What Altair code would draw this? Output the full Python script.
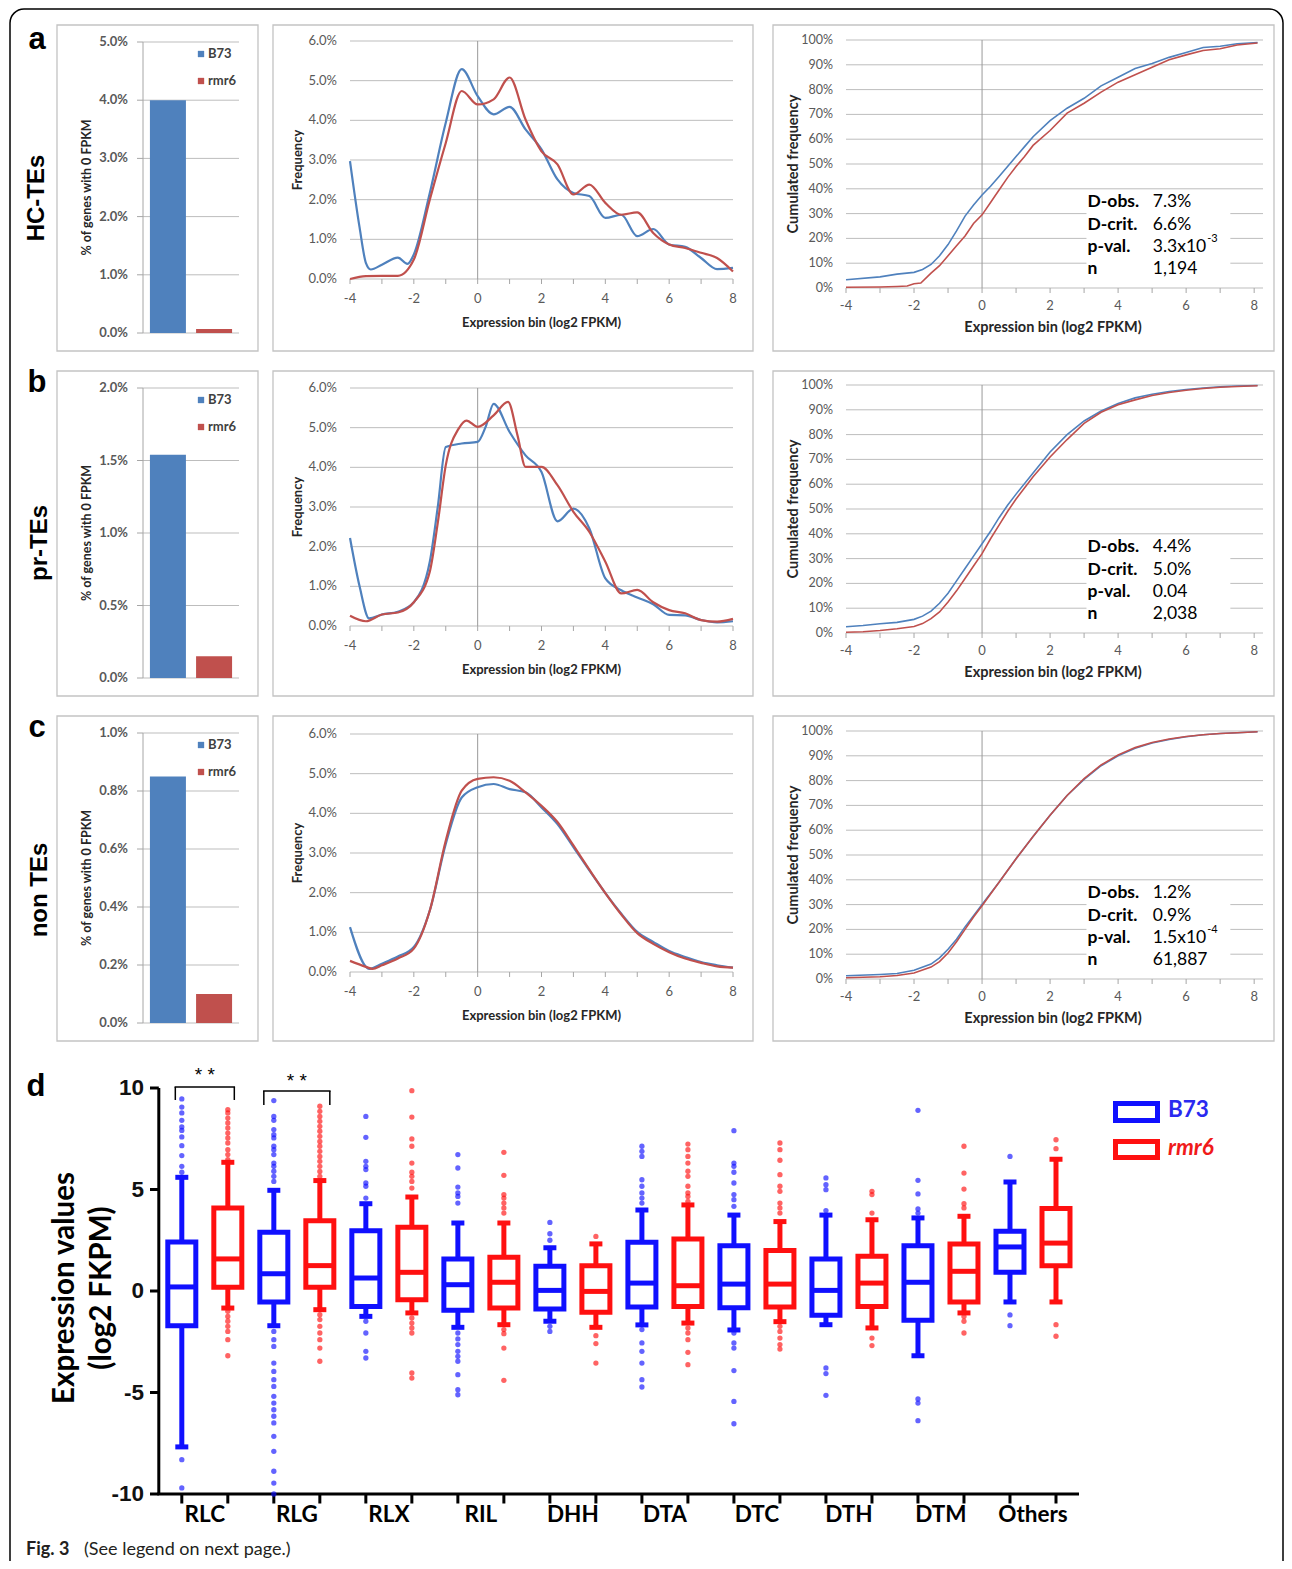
import altair as alt
import pandas as pd

W, H = 1276, 1553
XL = "Lato"
AR = "Liberation Sans"
ARN = "Liberation Sans Narrow, Liberation Sans"
GRID = "#bdbdbd"
AXC = "#a6a6a6"
ZERO = "#9a9a9a"
LAB = "#595959"
TIT = "#262626"
FRAME = "#c3c3c3"
BLUE_XL, RED_XL = "#4F81BD", "#C0504D"
BLUE, RED = "#1010FF", "#FF1010"

# ---------------- data ----------------
SERIES = ["B73", "rmr6"]
ROW_LABELS = ["HC-TEs", "pr-TEs", "non TEs"]

zero_fpkm_b73 = [4.0, 1.54, 0.85]
zero_fpkm_rmr6 = [0.07, 0.15, 0.10]
bar_max = [5.0, 2.0, 1.0]
bar_ticks_a = [0, 1, 2, 3, 4, 5]
bar_ticks_b = [0, 0.5, 1.0, 1.5, 2.0]
bar_ticks_c = [0, 0.2, 0.4, 0.6, 0.8, 1.0]

freq_ticks = [0, 1, 2, 3, 4, 5, 6]
expr_ticks = [-4, -3, -2, -1, 0, 1, 2, 3, 4, 5, 6, 7, 8]
expr_labels = [-4, -2, 0, 2, 4, 6, 8]
cum_ticks = [0, 10, 20, 30, 40, 50, 60, 70, 80, 90, 100]

# frequency curves (% of genes per expression bin)
fa_b73_x = [-4, -3.7, -3.5, -3.35, -3, -2.5, -2.2, -2, -1.5, -1, -0.5, 0, 0.5, 1, 1.5, 2, 2.5, 3, 3.5, 4, 4.5, 5, 5.5, 6, 6.5, 7, 7.5, 8]
fa_b73_y = [2.97, 1.3, 0.4, 0.24, 0.36, 0.54, 0.38, 0.62, 2.17, 3.94, 5.29, 4.61, 4.15, 4.34, 3.77, 3.27, 2.51, 2.17, 2.09, 1.54, 1.62, 1.08, 1.26, 0.87, 0.81, 0.53, 0.25, 0.28]
fa_rmr6_x = [-4, -3.5, -3, -2.5, -2, -1.5, -1, -0.5, 0, 0.5, 1, 1.5, 2, 2.5, 3, 3.5, 4, 4.5, 5, 5.5, 6, 6.5, 7, 7.5, 8]
fa_rmr6_y = [0, 0.07, 0.08, 0.08, 0.49, 2.0, 3.43, 4.74, 4.4, 4.53, 5.08, 4.02, 3.22, 2.89, 2.13, 2.38, 1.92, 1.62, 1.68, 1.16, 0.87, 0.78, 0.66, 0.53, 0.19]

fb_b73_x = [-4, -3.7, -3.4, -3, -2.5, -2, -1.5, -1.25, -1, -0.5, 0, 0.25, 0.5, 1, 1.5, 2, 2.5, 3, 3.5, 4, 4.5, 5, 5.5, 6, 6.5, 7, 7.5, 8]
fb_b73_y = [2.22, 1.0, 0.19, 0.29, 0.36, 0.6, 1.62, 3.0, 4.51, 4.6, 4.64, 5.02, 5.6, 4.89, 4.3, 3.88, 2.64, 2.96, 2.46, 1.2, 0.9, 0.72, 0.55, 0.28, 0.27, 0.15, 0.09, 0.12]
fb_rmr6_x = [-4, -3.5, -3, -2.5, -2, -1.5, -1.25, -1, -0.6, -0.35, 0, 0.5, 0.95, 1.25, 1.5, 2, 2.5, 3, 3.5, 4, 4.5, 5, 5.5, 6, 6.5, 7, 7.5, 8]
fb_rmr6_y = [0.26, 0.12, 0.29, 0.34, 0.6, 1.37, 2.6, 4.05, 4.97, 5.18, 5.02, 5.31, 5.65, 4.8, 4.01, 4.01, 3.55, 2.88, 2.37, 1.62, 0.82, 0.91, 0.6, 0.4, 0.32, 0.15, 0.11, 0.18]

fc_b73_x = [-4, -3.5, -3.4, -3, -2.5, -2, -1.5, -1, -0.5, 0, 0.5, 1, 1.5, 2, 2.5, 3, 3.5, 4, 4.5, 5, 5.5, 6, 6.5, 7, 7.5, 8]
fc_b73_y = [1.13, 0.13, 0.08, 0.21, 0.39, 0.63, 1.55, 3.23, 4.4, 4.66, 4.74, 4.61, 4.53, 4.15, 3.73, 3.15, 2.56, 1.99, 1.47, 1.01, 0.76, 0.53, 0.38, 0.25, 0.17, 0.11]
fc_rmr6_x = [-4, -3.5, -3.3, -3, -2.5, -2, -1.5, -1, -0.5, 0, 0.5, 1, 1.5, 2, 2.5, 3, 3.5, 4, 4.5, 5, 5.5, 6, 6.5, 7, 7.5, 8]
fc_rmr6_y = [0.28, 0.13, 0.08, 0.17, 0.34, 0.59, 1.55, 3.31, 4.57, 4.87, 4.91, 4.82, 4.53, 4.19, 3.78, 3.19, 2.58, 1.99, 1.45, 0.98, 0.71, 0.5, 0.34, 0.23, 0.14, 0.11]

# cumulated frequency curves (%)
ca_b73_x = [-4, -3, -2.5, -2, -1.75, -1.5, -1.25, -1, -0.75, -0.5, -0.25, 0, 0.25, 0.5, 0.75, 1, 1.25, 1.5, 2, 2.5, 3, 3.5, 4, 4.5, 5, 5.5, 6, 6.5, 7, 7.5, 8.1]
ca_b73_y = [3.3, 4.5, 5.6, 6.3, 7.5, 9.5, 13, 17.5, 23, 29, 33.5, 37.5, 41, 45, 49, 53, 57, 61, 67.5, 72.5, 76.5, 81.5, 85, 88.5, 90.5, 93, 95, 97, 97.5, 98.5, 99]
ca_rmr6_x = [-4, -3, -2.5, -2.2, -2, -1.8, -1.5, -1.25, -1, -0.75, -0.5, -0.25, 0, 0.25, 0.5, 0.75, 1, 1.25, 1.5, 2, 2.5, 3, 3.5, 4, 4.5, 5, 5.5, 6, 6.5, 7, 7.5, 8.1]
ca_rmr6_y = [0.3, 0.4, 0.6, 0.8, 1.7, 2.0, 6, 9, 13, 17, 21, 26, 29.5, 34.5, 39.5, 44.5, 49, 53, 57.5, 63.5, 70.5, 74.5, 79, 83, 86, 89, 92, 94, 95.8, 96.5, 98, 98.8]

cb_x = [-4, -3.5, -3, -2.5, -2, -1.75, -1.5, -1.25, -1, -0.75, -0.5, -0.25, 0, 0.25, 0.5, 0.75, 1, 1.5, 2, 2.5, 3, 3.5, 4, 4.5, 5, 5.5, 6, 6.5, 7, 7.5, 8.1]
cb_b73_y = [2.5, 3.0, 3.7, 4.3, 5.5, 6.8, 8.8, 12, 16, 21, 26, 31, 36, 41, 46.5, 51.5, 56, 64.5, 73, 80, 85.5, 89.5, 92.5, 94.8, 96.3, 97.4, 98.2, 98.8, 99.3, 99.6, 99.8]
cb_rmr6_y = [0.3, 0.5, 1.0, 1.7, 2.6, 3.8, 5.8, 8.5, 12.5, 17, 22, 27, 32, 38, 43.5, 49, 54, 63, 71, 78, 84.5, 89, 92, 94, 95.8, 97, 97.9, 98.6, 99.1, 99.4, 99.7]

cc_x = [-4, -3, -2.5, -2, -1.5, -1.25, -1, -0.75, -0.5, -0.25, 0, 0.5, 1, 1.5, 2, 2.5, 3, 3.5, 4, 4.5, 5, 5.5, 6, 6.5, 7, 7.5, 8.1]
cc_b73_y = [1.3, 1.8, 2.2, 3.5, 6, 8.5, 12, 16, 21, 25.5, 30, 39, 48.5, 57.5, 66, 74, 80.5, 86, 90, 93, 95.2, 96.6, 97.7, 98.5, 99, 99.3, 99.7]
cc_rmr6_y = [0.5, 0.9, 1.4, 2.4, 4.8, 7, 10.5, 15, 20, 25, 29.5, 39, 48.5, 57.5, 66, 74, 80.8, 86.3, 90.3, 93.3, 95.4, 96.8, 97.8, 98.5, 99, 99.3, 99.7]

ks_labels = ["D-obs.", "D-crit.", "p-val.", "n"]
ks_a = ["7.3%", "6.6%", "3.3x10", "1,194"]
ks_b = ["4.4%", "5.0%", "0.04", "2,038"]
ks_c = ["1.2%", "0.9%", "1.5x10", "61,887"]
ks_sup = ["-3", "", "-4"]

# box plot (log2 FPKM)
CATS = ["RLC", "RLG", "RLX", "RIL", "DHH", "DTA", "DTC", "DTH", "DTM", "Others"]
b73_low = [-7.68, -1.71, -1.25, -1.79, -1.49, -1.67, -1.92, -1.66, -3.19, -0.54]
b73_q1 = [-1.71, -0.54, -0.76, -0.95, -0.89, -0.79, -0.82, -1.2, -1.44, 0.92]
b73_med = [0.2, 0.85, 0.64, 0.31, 0.03, 0.39, 0.34, 0.03, 0.43, 2.17]
b73_q3 = [2.41, 2.89, 2.97, 1.58, 1.22, 2.4, 2.23, 1.58, 2.23, 2.94]
b73_high = [5.6, 4.96, 4.3, 3.35, 2.13, 3.99, 3.74, 3.74, 3.6, 5.37]
rmr6_low = [-0.84, -0.92, -1.08, -1.66, -1.79, -1.58, -1.51, -1.82, -1.08, -0.54]
rmr6_q1 = [0.18, 0.18, -0.43, -0.84, -1.05, -0.76, -0.79, -0.76, -0.54, 1.25]
rmr6_med = [1.58, 1.25, 0.92, 0.43, -0.02, 0.26, 0.34, 0.39, 0.97, 2.36]
rmr6_q3 = [4.09, 3.46, 3.14, 1.66, 1.25, 2.56, 1.99, 1.71, 2.32, 4.06]
rmr6_high = [6.34, 5.44, 4.63, 3.35, 2.32, 4.24, 3.42, 3.51, 3.68, 6.49]

b73_out = {
    "RLC": [9.46, 9.06, 8.77, 8.41, 8.08, 7.91, 7.59, 7.16, 6.67, 6.14, 5.85, -8.31, -9.7],
    "RLG": [9.38, 8.6, 8.41, 7.95, 7.7, 7.54, 7.13, 6.96, 6.72, 6.3, 6.14, 5.9, 5.65, 5.4, -1.99, -2.4, -2.73,
            -3.55, -3.96, -4.37, -4.7, -5.19, -5.52, -5.85, -6.17, -6.5, -7.16, -7.9, -8.88, -9.46, -10.0],
    "RLX": [8.6, 7.57, 6.39, 6.14, 5.98, 5.32, 5.16, 4.58, -1.49, -2.07, -2.97, -3.3],
    "RIL": [6.72, 6.06, 5.12, 4.83, 4.66, 4.33, -2.07, -2.36, -2.64, -2.97, -3.22, -3.46, -4.12, -4.86, -5.11],
    "DHH": [3.38, 2.82, 2.5, -1.74, -1.99],
    "DTA": [7.13, 6.88, 6.63, 5.48, 5.16, 4.83, 4.58, 4.33, -1.9, -2.56, -2.97, -3.55, -4.37, -4.73],
    "DTC": [7.9, 6.3, 6.14, 5.85, 5.32, 4.75, 4.5, 4.17, -2.07, -2.56, -2.81, -3.92, -5.44, -6.54],
    "DTH": [5.57, 5.24, 4.99, 3.96, -3.79, -4.07, -5.14],
    "DTM": [8.9, 5.45, 4.78, 4.04, 3.84, -5.32, -5.52, -6.39],
    "Others": [6.63, -1.18, -1.71],
}
rmr6_out = {
    "RLC": [8.93, 8.77, 8.52, 8.28, 8.03, 7.78, 7.54, 7.29, 6.96, 6.72, 6.47, -1.0, -1.25, -1.49, -1.74, -1.99, -2.4, -3.19],
    "RLG": [9.1, 8.85, 8.6, 8.36, 8.11, 7.87, 7.62, 7.37, 7.13, 6.88, 6.63, 6.39, 6.14, 5.89, 5.65, -1.17, -1.41,
            -1.74, -2.07, -2.4, -2.81, -3.46],
    "RLX": [9.87, 8.57, 7.49, 7.13, 6.3, 5.85, 5.65, 5.4, 5.07, -1.33, -1.58, -1.82, -2.07, -4.04, -4.29],
    "RIL": [6.83, 5.7, 4.75, 4.58, 4.33, 4.09, 3.84, -1.9, -2.1, -2.81, -4.4],
    "DHH": [2.69, -2.2, -2.59, -3.55],
    "DTA": [7.24, 6.96, 6.63, 6.3, 5.9, 5.65, 5.16, 4.83, 4.66, 4.42, -1.82, -2.07, -2.4, -3.02, -3.63],
    "DTC": [7.29, 6.96, 6.44, 5.73, 5.16, 4.91, 4.33, 4.09, 3.84, -1.74, -1.99, -2.32, -2.64, -2.86],
    "DTH": [4.91, 4.75, 3.84, -2.32, -2.69],
    "DTM": [7.13, 5.81, 5.02, 4.3, 4.09, -1.25, -1.49, -2.07],
    "Others": [7.45, 7.01, -1.66, -2.23],
}
sig_cats = ["RLC", "RLG"]
sig_top = [10.05, 9.85]
sig_leg = [9.41, 9.16]
sig_star = [10.64, 10.34]
d_ticks = [-10, -5, 0, 5, 10]

# ---------------- helpers ----------------
one = pd.DataFrame({"k": [0]})
COLOR = alt.Color("s:N", scale=alt.Scale(domain=SERIES, range=[BLUE_XL, RED_XL]), legend=None)


def text(x, y, s, size, font=XL, weight="normal", color="black", angle=0, align="center", style="normal"):
    return alt.Chart(one).mark_text(text=s, font=font, fontSize=size, fontWeight=weight, color=color,
                                    angle=angle, align=align, baseline="middle", fontStyle=style).encode(
        x=alt.value(x), y=alt.value(y))


def frame(x0, x1, y0, y1, color=FRAME, sw=1.3, radius=0):
    return alt.Chart(one).mark_rect(fill="white", fillOpacity=0, stroke=color, strokeWidth=sw,
                                    cornerRadius=radius).encode(
        x=alt.value(x0), x2=alt.value(x1), y=alt.value(y0), y2=alt.value(y1))


def line_df(xb, yb, xr, yr):
    return pd.DataFrame({"x": list(xb) + list(xr), "v": list(yb) + list(yr),
                         "s": ["B73"] * len(xb) + ["rmr6"] * len(xr)})


def y_labels(ticks, fmt, ys, x_right, size, color, weight="normal", font=XL):
    df = pd.DataFrame({"t": ticks, "lab": [fmt(t) for t in ticks]})
    return alt.Chart(df).mark_text(align="right", baseline="middle", font=font, fontSize=size,
                                   fontWeight=weight, color=color).encode(
        x=alt.value(x_right), y=alt.Y("t:Q", scale=ys, axis=None), text="lab:N")


def x_labels(ticks, xs, y_mid, size, color, weight="normal", font=XL):
    df = pd.DataFrame({"t": ticks, "lab": [str(t) for t in ticks]})
    return alt.Chart(df).mark_text(align="center", baseline="middle", font=font, fontSize=size,
                                   fontWeight=weight, color=color).encode(
        x=alt.X("t:Q", scale=xs, axis=None), y=alt.value(y_mid), text="lab:N")


def bar_panel(b73, rmr6, ymax, ticks, yb, yt, leg_y):
    xs = alt.Scale(domain=SERIES, range=[135, 231], paddingInner=0.22, paddingOuter=0.15)
    ys = alt.Scale(domain=[0, ymax], range=[yb, yt], nice=False, zero=False)
    tdf = pd.DataFrame({"t": ticks})
    grid = alt.Chart(tdf).mark_rule(color=GRID, strokeWidth=1).encode(
        y=alt.Y("t:Q", scale=ys, axis=None), x=alt.value(135), x2=alt.value(231))
    tks = alt.Chart(tdf).mark_rule(color=AXC, strokeWidth=1).encode(
        y=alt.Y("t:Q", scale=ys, axis=None), x=alt.value(129), x2=alt.value(135))
    dom = alt.Chart(one).mark_rule(color=AXC, strokeWidth=1).encode(
        x=alt.value(135), y=alt.YDatum(0, scale=ys, axis=None), y2=alt.datum(ymax))
    labs = y_labels(ticks, lambda t: f"{t:.1f}%", ys, 120, 13, LAB, weight="bold")
    bars = alt.Chart(pd.DataFrame({"s": SERIES, "v": [b73, rmr6]})).mark_bar().encode(
        x=alt.X("s:N", scale=xs, axis=None), y=alt.Y("v:Q", scale=ys, axis=None), color=COLOR)
    title = text(79, (yb + yt) / 2, "% of genes with 0 FPKM", 12.5, weight="bold", color=TIT, angle=270)
    legs = []
    for name, col, ly in zip(SERIES, [BLUE_XL, RED_XL], leg_y):
        legs.append(alt.Chart(one).mark_square(size=40, color=col, opacity=1).encode(
            x=alt.value(193), y=alt.value(ly)))
        legs.append(text(200, ly, name, 13, weight="bold", color="#404040", align="left"))
    return alt.layer(grid, tks, dom, bars, labs, title, *legs)


def freq_panel(df, yb, yt):
    xs = alt.Scale(domain=[-4, 8], range=[342, 725], nice=False, zero=False)
    ys = alt.Scale(domain=[0, 6], range=[yb, yt], nice=False, zero=False)
    grid = alt.Chart(pd.DataFrame({"t": freq_ticks})).mark_rule(color=GRID, strokeWidth=1).encode(
        x=alt.XDatum(-4, scale=xs, axis=None), x2=alt.datum(8), y=alt.Y("t:Q", scale=ys, axis=None))
    tks = alt.Chart(pd.DataFrame({"t": expr_ticks})).mark_rule(color=AXC, strokeWidth=1).encode(
        x=alt.X("t:Q", scale=xs, axis=None), y=alt.value(yb), y2=alt.value(yb + 5))
    zero = alt.Chart(one).mark_rule(color=ZERO, strokeWidth=1).encode(
        x=alt.XDatum(0, scale=xs, axis=None), y=alt.YDatum(0, scale=ys, axis=None), y2=alt.datum(6))
    lines = alt.Chart(df).mark_line(strokeWidth=2.2, interpolate="monotone").encode(
        x=alt.X("x:Q", scale=xs, axis=None), y=alt.Y("v:Q", scale=ys, axis=None), color=COLOR)
    xl = x_labels(expr_labels, xs, yb + 20, 13, LAB)
    yl = y_labels(freq_ticks, lambda t: f"{t:.1f}%", ys, 329, 13, LAB)
    xt = text(533.5, yb + 44, "Expression bin (log2 FPKM)", 13, weight="bold", color=TIT)
    yt_ = text(290, (yb + yt) / 2, "Frequency", 13, weight="bold", color=TIT, angle=270)
    return alt.layer(grid, tks, zero, lines, xl, yl, xt, yt_)


def cum_panel(df, yb, yt, vals, sup):
    xs = alt.Scale(domain=[-4, 8.26], range=[838, 1255], nice=False, zero=False)
    ys = alt.Scale(domain=[0, 100], range=[yb, yt], nice=False, zero=False)
    grid = alt.Chart(pd.DataFrame({"t": cum_ticks})).mark_rule(color=GRID, strokeWidth=1).encode(
        x=alt.XDatum(-4, scale=xs, axis=None), x2=alt.datum(8.26), y=alt.Y("t:Q", scale=ys, axis=None))
    tks = alt.Chart(pd.DataFrame({"t": expr_ticks})).mark_rule(color=AXC, strokeWidth=1).encode(
        x=alt.X("t:Q", scale=xs, axis=None), y=alt.value(yb), y2=alt.value(yb + 5))
    zero = alt.Chart(one).mark_rule(color=ZERO, strokeWidth=1).encode(
        x=alt.XDatum(0, scale=xs, axis=None), y=alt.YDatum(0, scale=ys, axis=None), y2=alt.datum(100))
    box = alt.Chart(one).mark_rect(color="white").encode(
        x=alt.XDatum(3.07, scale=xs, axis=None), x2=alt.datum(7.3),
        y=alt.YDatum(2, scale=ys, axis=None), y2=alt.datum(38.7))
    lines = alt.Chart(df).mark_line(strokeWidth=1.6).encode(
        x=alt.X("x:Q", scale=xs, axis=None), y=alt.Y("v:Q", scale=ys, axis=None), color=COLOR)
    xl = x_labels(expr_labels, xs, yb + 18, 13, LAB)
    yl = y_labels(cum_ticks, lambda t: f"{t}%", ys, 825, 12.5, LAB)
    xt = text(1045, yb + 40, "Expression bin (log2 FPKM)", 14.5, weight="bold", color=TIT)
    yt_ = text(786, (yb + yt) / 2, "Cumulated frequency", 14.5, weight="bold", color=TIT, angle=270)
    kdf = pd.DataFrame({"lab": ks_labels, "val": vals, "ky": [34.6, 25.5, 16.5, 7.6]})
    labs = alt.Chart(kdf).mark_text(align="left", baseline="middle", font=XL, fontSize=17.5,
                                    fontWeight="bold", color="black").encode(
        x=alt.XDatum(3.1, scale=xs, axis=None), y=alt.Y("ky:Q", scale=ys, axis=None), text="lab:N")
    vls = alt.Chart(kdf).mark_text(align="left", baseline="middle", font=XL, fontSize=17.5,
                                   color="black").encode(
        x=alt.XDatum(5.02, scale=xs, axis=None), y=alt.Y("ky:Q", scale=ys, axis=None), text="val:N")
    layers = [grid, tks, zero, box, lines, xl, yl, xt, yt_, labs, vls]
    if sup:
        layers.append(alt.Chart(one).mark_text(text=sup, align="left", baseline="middle", font=XL,
                                               fontSize=11, color="black").encode(
            x=alt.XDatum(6.62, scale=xs, axis=None), y=alt.YDatum(19.6, scale=ys, axis=None)))
    return alt.layer(*layers)


def box_panel():
    xs = alt.Scale(domain=CATS, range=[150.8, 1071], paddingInner=0, paddingOuter=0)
    xo = alt.Scale(domain=SERIES, paddingInner=0, paddingOuter=0)
    ys = alt.Scale(domain=[-10, 10], range=[1486, 1080], nice=False, zero=False)
    box_df = pd.DataFrame({
        "cat": CATS * 2, "series": ["B73"] * len(CATS) + ["rmr6"] * len(CATS),
        "low": b73_low + rmr6_low, "q1": b73_q1 + rmr6_q1, "med": b73_med + rmr6_med,
        "q3": b73_q3 + rmr6_q3, "high": b73_high + rmr6_high})
    rows = []
    for s, d in (("B73", b73_out), ("rmr6", rmr6_out)):
        for c in CATS:
            for v in d[c]:
                rows.append({"cat": c, "series": s, "v": v})
    out_df = pd.DataFrame(rows)

    def X():
        return alt.X("cat:N", scale=xs, axis=None, sort=CATS)

    XO = alt.XOffset("series:N", scale=xo, sort=SERIES)
    layers = []
    # axes
    layers.append(alt.Chart(one).mark_rule(color="black", strokeWidth=3).encode(
        x=alt.value(150.8), y=alt.YDatum(-10, scale=ys, axis=None), y2=alt.datum(10)))
    layers.append(alt.Chart(one).mark_rule(color="black", strokeWidth=3).encode(
        x=alt.value(149.3), x2=alt.value(1071), y=alt.YDatum(-10, scale=ys, axis=None)))
    layers.append(alt.Chart(pd.DataFrame({"t": d_ticks})).mark_rule(color="black", strokeWidth=3).encode(
        x=alt.value(142), x2=alt.value(150.8), y=alt.Y("t:Q", scale=ys, axis=None)))
    layers.append(y_labels(d_ticks, lambda t: str(t), ys, 136, 22.5, "#111111", weight="bold", font=AR))
    layers.append(alt.Chart(pd.DataFrame({"cat": CATS})).mark_text(
        font=XL, fontSize=22.5, fontWeight="bold", color="black", baseline="middle").encode(
        x=X(), y=alt.value(1507), text="cat:N"))
    layers.append(text(57, 1280, "Expression values", 29.5, weight="bold", angle=270))
    layers.append(text(94, 1280, "(log2 FKPM)", 29.5, weight="bold", angle=270))
    layers.append(alt.Chart(box_df).mark_tick(orient="vertical", size=9, thickness=3, color="black",
                                              yOffset=5, opacity=1).encode(
        x=X(), xOffset=XO, y=alt.YDatum(-10, scale=ys, axis=None)))

    for s, col in (("B73", BLUE), ("rmr6", RED)):
        sub = box_df[box_df.series == s]
        osub = out_df[out_df.series == s]
        base = alt.Chart(sub)
        layers.append(base.mark_rule(color=col, strokeWidth=5).encode(
            x=X(), xOffset=XO, y=alt.Y("q3:Q", scale=ys, axis=None), y2="high:Q"))
        layers.append(base.mark_rule(color=col, strokeWidth=5).encode(
            x=X(), xOffset=XO, y=alt.Y("low:Q", scale=ys, axis=None), y2="q1:Q"))
        layers.append(alt.Chart(osub).mark_circle(size=28, color=col, opacity=0.65).encode(
            x=X(), xOffset=XO, y=alt.Y("v:Q", scale=ys, axis=None)))
        layers.append(base.mark_bar(width=28, fill="white", stroke=col, strokeWidth=5).encode(
            x=X(), xOffset=XO, y=alt.Y("q1:Q", scale=ys, axis=None), y2="q3:Q"))
        for fld, sz in (("med", 28), ("high", 13), ("low", 13)):
            layers.append(base.mark_tick(size=sz, thickness=5, color=col, opacity=1).encode(
                x=X(), xOffset=XO, y=alt.Y(f"{fld}:Q", scale=ys, axis=None)))
    # significance brackets
    sig_df = pd.DataFrame({"cat": sig_cats, "top": sig_top, "leg": sig_leg, "star": sig_star})
    for i, hw in enumerate([29.5, 33]):
        sub = sig_df.iloc[[i]]
        b = alt.Chart(sub)
        layers.append(b.mark_tick(size=2 * hw + 1.5, thickness=1.5, color="black", opacity=1).encode(
            x=X(), y=alt.Y("top:Q", scale=ys, axis=None)))
        for off in (-hw, hw):
            layers.append(b.mark_rule(color="black", strokeWidth=1.5, xOffset=off).encode(
                x=X(), y=alt.Y("top:Q", scale=ys, axis=None), y2="leg:Q"))
        layers.append(b.mark_text(text="* *", font=AR, fontSize=19, color="black",
                                  baseline="middle").encode(
            x=X(), y=alt.Y("star:Q", scale=ys, axis=None)))
    return alt.layer(*layers)


# ---------------- assemble ----------------
layers = [frame(2, 1275, 1, 1620, color="black", sw=1.5, radius=14)]

frame_rows = [(17, 343), (363, 688), (708, 1033)]
for y0, y1 in frame_rows:
    layers += [frame(49, 250, y0, y1), frame(265, 745, y0, y1), frame(765, 1266, y0, y1)]

layers.append(bar_panel(zero_fpkm_b73[0], zero_fpkm_rmr6[0], bar_max[0], bar_ticks_a, 325, 34, [46, 73]))
layers.append(bar_panel(zero_fpkm_b73[1], zero_fpkm_rmr6[1], bar_max[1], bar_ticks_b, 670, 380, [392, 419]))
layers.append(bar_panel(zero_fpkm_b73[2], zero_fpkm_rmr6[2], bar_max[2], bar_ticks_c, 1015, 725, [737, 764]))

layers.append(freq_panel(line_df(fa_b73_x, fa_b73_y, fa_rmr6_x, fa_rmr6_y), 271, 33))
layers.append(freq_panel(line_df(fb_b73_x, fb_b73_y, fb_rmr6_x, fb_rmr6_y), 618, 380))
layers.append(freq_panel(line_df(fc_b73_x, fc_b73_y, fc_rmr6_x, fc_rmr6_y), 964, 726))

layers.append(cum_panel(line_df(ca_b73_x, ca_b73_y, ca_rmr6_x, ca_rmr6_y), 280, 32, ks_a, ks_sup[0]))
layers.append(cum_panel(line_df(cb_x, cb_b73_y, cb_x, cb_rmr6_y), 625, 377, ks_b, ks_sup[1]))
layers.append(cum_panel(line_df(cc_x, cc_b73_y, cc_x, cc_rmr6_y), 971, 723, ks_c, ks_sup[2]))

layers.append(box_panel())

# panel letters, row labels, legend of d, caption
for (lx, ly), letter in zip([(29, 32), (29, 375), (29, 720), (28, 1079)], ["a", "b", "c", "d"]):
    layers.append(text(lx, ly, letter, 31, font=AR, weight="bold"))
for (lx, ly), lab in zip([(29, 190), (32, 535), (32, 882)], ROW_LABELS):
    layers.append(text(lx, ly, lab, 24, font=ARN, weight="bold", angle=270))

layers.append(alt.Chart(one).mark_rect(fill="white", stroke=BLUE, strokeWidth=5).encode(
    x=alt.value(1107.5), x2=alt.value(1149.5), y=alt.value(1095.5), y2=alt.value(1112.5)))
layers.append(alt.Chart(one).mark_rect(fill="white", stroke=RED, strokeWidth=5).encode(
    x=alt.value(1107.5), x2=alt.value(1149.5), y=alt.value(1133.5), y2=alt.value(1149.5)))
layers.append(text(1160, 1102, "B73", 22.5, weight="bold", color="#2a2af0", align="left"))
layers.append(text(1160, 1140, "rmr6", 22.5, weight="bold", color="#f01a1a", align="left", style="italic"))

layers.append(text(18, 1542, "Fig. 3", 18, weight="bold", color="#231f20", align="left"))
layers.append(text(76, 1542, "(See legend on next page.)", 18, color="#231f20", align="left"))

chart = alt.layer(*layers).resolve_scale(
    x="independent", y="independent"
).properties(
    width=W, height=H, padding=0, background="white",
    autosize=alt.AutoSizeParams(type="none")
).configure_view(strokeWidth=0)

chart.save("out.html", embed_options={"renderer": "svg", "actions": False})
